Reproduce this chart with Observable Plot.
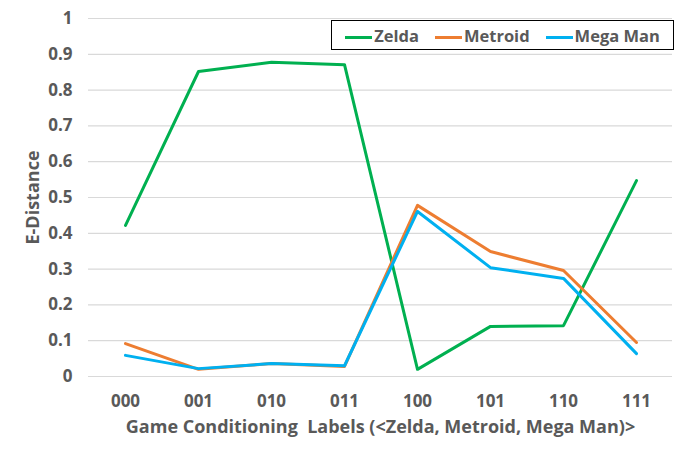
<!DOCTYPE html>
<html><head><meta charset="utf-8">
<script src="https://cdn.jsdelivr.net/npm/d3@7"></script>
<script src="https://cdn.jsdelivr.net/npm/@observablehq/plot@0.6"></script>
<style>
body{margin:0;background:#fff;}
#wrap{position:relative;width:687px;height:458px;font-family:"Open Sans",Lato,sans-serif;}
#legend{position:absolute;left:331px;top:20px;width:343px;height:30px;border:1.5px solid #000;box-sizing:border-box;display:flex;align-items:center;justify-content:center;gap:16px;font-weight:bold;font-size:16.5px;color:#595959;background:#fff;}
#legend span.sw{display:inline-block;width:27px;height:3px;vertical-align:middle;margin-right:2px;}
</style></head><body>
<div id="wrap"><div id="legend"></div></div>
<script>
const labels = ["000","001","010","011","100","101","110","111"];
const seriesNames = ["Zelda","Metroid","Mega Man"];
const zelda   = [0.422,0.852,0.878,0.871,0.020,0.140,0.142,0.547];
const metroid = [0.092,0.020,0.036,0.028,0.478,0.349,0.296,0.095];
const megaman = [0.059,0.022,0.036,0.030,0.461,0.304,0.274,0.064];
const colors = ["#00B050","#ED7D31","#00B0F0"];
const yTicks = [0,0.1,0.2,0.3,0.4,0.5,0.6,0.7,0.8,0.9,1];

const allSeries = [zelda, metroid, megaman];
const data = [];
allSeries.forEach((vals, si) => vals.forEach((v, i) => data.push({label: labels[i], value: v, series: seriesNames[si]})));

const chart = Plot.plot({
  width: 687, height: 458,
  marginLeft: 88, marginRight: 15, marginTop: 18, marginBottom: 82,
  style: {fontFamily: "'Open Sans', Lato, sans-serif", fontSize: "16px", fontWeight: "bold", color: "#595959", background: "#fff"},
  x: {type: "point", domain: labels, padding: 0.5, label: null},
  y: {domain: [0, 1], label: null},
  color: {domain: seriesNames, range: colors},
  marks: [
    Plot.gridY(yTicks, {stroke: "#d9d9d9", strokeOpacity: 1, strokeWidth: 1.2}),
    Plot.axisY(yTicks, {tickSize: 0, tickPadding: 16, tickFormat: d => d3.format("")(d), fill: "#595959", fontSize: 17, fontWeight: "bold", label: null}),
    Plot.axisX(labels, {tickSize: 0, tickPadding: 18, fill: "#595959", fontSize: 17, fontWeight: "bold", label: null}),
    Plot.text(["Game Conditioning  Labels (<Zelda, Metroid, Mega Man)>"], {frameAnchor: "bottom", dy: 56, fill: "#595959", fontSize: 18, fontWeight: "bold"}),
    Plot.text(["E-Distance"], {frameAnchor: "left", dx: -55, rotate: -90, textAnchor: "middle", fill: "#595959", fontSize: 18, fontWeight: "bold"}),
    Plot.line(data, {x: "label", y: "value", stroke: "series", z: "series", strokeWidth: 3, strokeLinejoin: "round"})
  ]
});
document.getElementById("wrap").prepend(chart);
const lg = document.getElementById("legend");
seriesNames.forEach((n, i) => {
  const d = document.createElement("div");
  d.innerHTML = `<span class="sw" style="background:${colors[i]}"></span>${n}`;
  lg.appendChild(d);
});
</script>
</body></html>
